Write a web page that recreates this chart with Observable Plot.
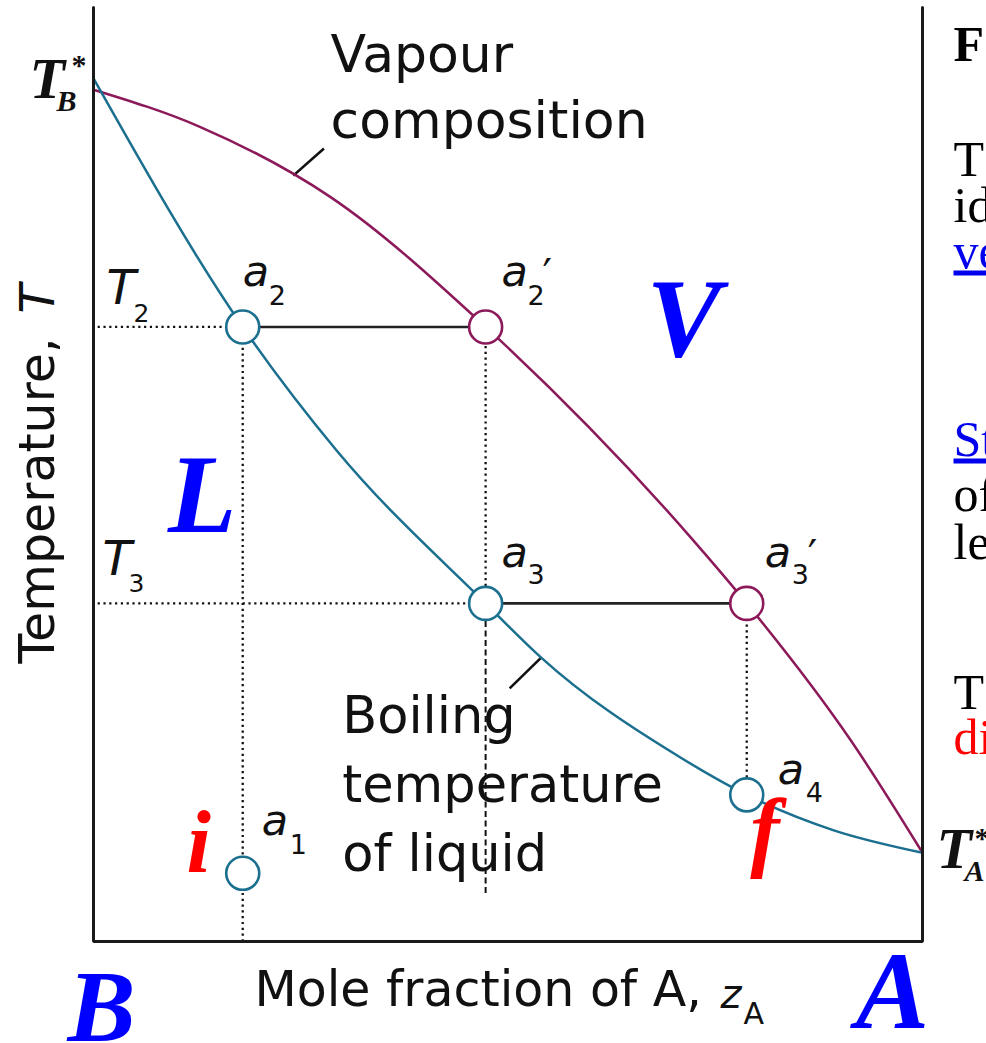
<!DOCTYPE html>
<html><head><meta charset="utf-8">
<script src="https://cdn.jsdelivr.net/npm/d3@7"></script>
<script src="https://cdn.jsdelivr.net/npm/@observablehq/plot@0.6"></script>
<style>
html,body{margin:0;padding:0;background:#fff;overflow:hidden;}
#chart svg{display:block;}
</style></head><body><div id="chart"></div>
<script>
// ---- data (mole fraction of A, z ; temperature T in arbitrary units) ----
const liquidZ = [0, 0.180, 0.293, 0.473, 0.540, 0.708, 0.788, 0.893, 1];
const liquidT = [92.4, 65.8, 52.6, 36.2, 30.4, 19.7, 15.7, 11.9, 9.5];
const vapourZ = [0, 0.129, 0.286, 0.473, 0.724, 0.788, 0.913, 1];
const vapourT = [91.2, 87.2, 79.7, 65.8, 42.9, 36.2, 21.6, 9.5];
const pointNames = ["a1", "a2", "a2′", "a3", "a3′", "a4"];
const pointZ = [0.180, 0.180, 0.473, 0.473, 0.788, 0.788];
const pointT = [7.3, 65.8, 65.8, 36.2, 36.2, 15.7];
const pointPhase = ["liquid", "liquid", "vapour", "liquid", "vapour", "liquid"];
const dashBottomT = 5.2;
const curveLabelText = ["Vapour\ncomposition", "Boiling\ntemperature\nof liquid"];
const curveLabelZ = [0.286, 0.300];
const curveLabelT = [86.0, 7.6];
const leaderZ1 = [0.241, 0.540], leaderT1 = [82.0, 30.4];
const leaderZ2 = [0.278, 0.502], leaderT2 = [84.9, 27.1];
const regionText = ["V", "L"], regionZ = [0.712, 0.131], regionT = [62.7, 43.8];
const endText = ["i", "f"], endZ = [0.127, 0.810], endT = [7.4, 8.7];
const sideLines = ["F", "T", "id", "ve", "St", "of", "le", "T", "di"];
const sideBaselines = [60, 175, 221, 267, 455, 510, 558, 708, 753];

// ---- build tables ----
const liquid = liquidZ.map((z, i) => ({z, T: liquidT[i]}));
const vapour = vapourZ.map((z, i) => ({z, T: vapourT[i]}));
const points = pointNames.map((name, i) => ({name, z: pointZ[i], T: pointT[i], phase: pointPhase[i],
  main: name[0], sub: name[1], prime: name.length > 2 ? name.slice(2) : ""}));
const P = Object.fromEntries(points.map(d => [d.name, d]));
const a1 = P["a1"], a2 = P["a2"], a2p = P["a2′"], a3 = P["a3"], a3p = P["a3′"], a4 = P["a4"];
const tieLines = [[a2, a2p], [a3, a3p]].map(([l, v]) => ({x1: l.z, y1: l.T, x2: v.z, y2: v.T}));
const dotted = [
  {x1: 0.005, y1: a2.T, x2: a2.z, y2: a2.T},
  {x1: 0.005, y1: a3.T, x2: a3.z, y2: a3.T},
  {x1: a2.z, y1: 0, x2: a2.z, y2: a2.T},
  {x1: a2p.z, y1: a3.T, x2: a2p.z, y2: a2p.T},
  {x1: a3p.z, y1: a4.T, x2: a3p.z, y2: a3p.T}
];
const dashed = [{x1: a3.z, y1: dashBottomT, x2: a3.z, y2: a3.T}];
const frame = [{z: 0, T: 100}, {z: 0, T: 0}, {z: 1, T: 0}, {z: 1, T: 100}];
const curveLabels = curveLabelText.map((text, i) => ({text, z: curveLabelZ[i], T: curveLabelT[i]}));
const leaders = leaderZ1.map((z, i) => ({x1: z, y1: leaderT1[i], x2: leaderZ2[i], y2: leaderT2[i]}));
const regions = regionText.map((text, i) => ({text, z: regionZ[i], T: regionT[i]}));
const ends = endText.map((text, i) => ({text, z: endZ[i], T: endT[i]}));
const side = sideLines.map((text, i) => ({text, b: sideBaselines[i]}));

const blue = "#1b6f8f", purple = "#8c1a5a";
const sans = "DejaVu Sans, sans-serif";
const serif = "Liberation Serif, Times New Roman, serif";
const ink = "#111";

// offsets for point labels (pixels, relative to circle centre)
const labelOffsets = {
  "a1": [19, -38, 47, -19, 0, 0],
  "a2": [0, -41, 26, -22, 0, 0],
  "a2′": [16, -41, 42, -22, 57, -38],
  "a3": [16, -36, 42, -19, 0, 0],
  "a3′": [18, -36, 45, -19, 61, -33],
  "a4": [31, -11, 59, 7, 0, 0]
};
const labelMarks = points.flatMap(d => {
  const o = labelOffsets[d.name];
  const m = [
    Plot.text([d], {x: "z", y: "T", text: "main", dx: o[0], dy: o[1], textAnchor: "start", lineAnchor: "bottom",
      fontFamily: sans, fontStyle: "italic", fontSize: 43, fill: ink}),
    Plot.text([d], {x: "z", y: "T", text: "sub", dx: o[2], dy: o[3], textAnchor: "start", lineAnchor: "bottom",
      fontFamily: sans, fontSize: 27, fill: ink})
  ];
  if (d.prime) m.push(Plot.text([d], {x: "z", y: "T", text: "prime", dx: o[4], dy: o[5], textAnchor: "start",
    lineAnchor: "bottom", fontFamily: sans, fontSize: 42, fill: ink}));
  return m;
});
const sideMarks = side.map(d => Plot.text([d], {frameAnchor: "top-right", text: "text", dx: 31, dy: d.b - 7,
  textAnchor: "start", lineAnchor: "bottom", fontFamily: serif, fontSize: 50,
  fill: d.text === "ve" || d.text === "St" ? "#0000ee" : d.text === "di" ? "#ff0000" : "#000",
  fontWeight: d.text === "F" ? "bold" : "normal"}));
const boldItalic = {fontFamily: serif, fontWeight: "bold", fontStyle: "italic"};
const TB = vapour[0], TA = vapour[vapour.length - 1];

const chart = Plot.plot({
  width: 986, height: 1043,
  marginLeft: 93, marginRight: 64, marginTop: 7, marginBottom: 102,
  x: {domain: [0, 1], axis: null},
  y: {domain: [0, 100], axis: null},
  style: {background: "white", overflow: "hidden"},
  marks: [
    // guide lines
    Plot.link(dotted, {x1: "x1", y1: "y1", x2: "x2", y2: "y2", stroke: ink, strokeWidth: 2.3, strokeDasharray: "2.2 3.6"}),
    Plot.link(dashed, {x1: "x1", y1: "y1", x2: "x2", y2: "y2", stroke: ink, strokeWidth: 2, strokeDasharray: "6 3.5"}),
    Plot.link(tieLines, {x1: "x1", y1: "y1", x2: "x2", y2: "y2", stroke: "#222", strokeWidth: 2.6}),
    Plot.link(leaders, {x1: "x1", y1: "y1", x2: "x2", y2: "y2", stroke: ink, strokeWidth: 2.6}),
    // curves
    Plot.line(vapour, {x: "z", y: "T", curve: "monotone-x", stroke: purple, strokeWidth: 2.5}),
    Plot.line(liquid, {x: "z", y: "T", curve: "monotone-x", stroke: blue, strokeWidth: 2.5}),
    // frame
    Plot.line(frame, {x: "z", y: "T", stroke: "#1a1a1a", strokeWidth: 3, strokeLinejoin: "miter"}),
    // state points
    Plot.dot(points, {x: "z", y: "T", r: 16.5, fill: "white", strokeWidth: 2.6,
      stroke: d => d.phase === "vapour" ? purple : blue}),
    ...labelMarks,
    // T2, T3 labels
    Plot.text([a2], {x: 0, y: "T", text: () => "T", dx: 13, dy: -23, textAnchor: "start", lineAnchor: "bottom",
      fontFamily: sans, fontStyle: "italic", fontSize: 48, fill: ink}),
    Plot.text([a2], {x: 0, y: "T", text: () => "2", dx: 40, dy: -5, textAnchor: "start", lineAnchor: "bottom",
      fontFamily: sans, fontSize: 25, fill: ink}),
    Plot.text([a3], {x: 0, y: "T", text: () => "T", dx: 9, dy: -28, textAnchor: "start", lineAnchor: "bottom",
      fontFamily: sans, fontStyle: "italic", fontSize: 48, fill: ink}),
    Plot.text([a3], {x: 0, y: "T", text: () => "3", dx: 35, dy: -11, textAnchor: "start", lineAnchor: "bottom",
      fontFamily: sans, fontSize: 25, fill: ink}),
    // curve labels
    Plot.text(curveLabels.slice(0, 1), {x: "z", y: "T", text: "text", textAnchor: "start", lineAnchor: "bottom",
      lineHeight: 1.27, fontFamily: sans, fontSize: 52, fill: ink}),
    Plot.text(curveLabels.slice(1), {x: "z", y: "T", text: "text", textAnchor: "start", lineAnchor: "bottom",
      lineHeight: 1.35, fontFamily: sans, fontSize: 51, fill: ink}),
    // region letters
    Plot.text(regions, {x: "z", y: "T", text: "text", textAnchor: "middle", lineAnchor: "bottom",
      ...boldItalic, fontSize: 112, fill: "#0000ff"}),
    Plot.text(ends, {x: "z", y: "T", text: "text", textAnchor: "middle", lineAnchor: "bottom",
      ...boldItalic, fontSize: 88, fill: "#ff0000"}),
    Plot.text(["B"], {frameAnchor: "bottom-left", text: d => d, dx: 8, dy: 99, textAnchor: "middle", lineAnchor: "bottom",
      ...boldItalic, fontSize: 102, fill: "#0000ff"}),
    Plot.text(["A"], {frameAnchor: "bottom-right", text: d => d, dx: -30, dy: 86, textAnchor: "middle", lineAnchor: "bottom",
      ...boldItalic, fontSize: 110, fill: "#0000ff"}),
    // pure-component boiling points
    Plot.text([TB], {x: "z", y: "T", text: () => "T", dx: -64, dy: 8, textAnchor: "start", lineAnchor: "bottom",
      ...boldItalic, fontSize: 58, fill: ink}),
    Plot.text([TB], {x: "z", y: "T", text: () => "B", dx: -37, dy: 21, textAnchor: "start", lineAnchor: "bottom",
      ...boldItalic, fontSize: 30, fill: ink}),
    Plot.text([TB], {x: "z", y: "T", text: () => "*", dx: -22, dy: -15, textAnchor: "start", lineAnchor: "bottom",
      fontFamily: serif, fontWeight: "bold", fontSize: 30, fill: ink}),
    Plot.text([TA], {x: "z", y: "T", text: () => "T", dx: 14, dy: 15, textAnchor: "start", lineAnchor: "bottom",
      ...boldItalic, fontSize: 58, fill: ink}),
    Plot.text([TA], {x: "z", y: "T", text: () => "A", dx: 42, dy: 28, textAnchor: "start", lineAnchor: "bottom",
      ...boldItalic, fontSize: 30, fill: ink}),
    Plot.text([TA], {x: "z", y: "T", text: () => "*", dx: 52, dy: -5, textAnchor: "start", lineAnchor: "bottom",
      fontFamily: serif, fontWeight: "bold", fontSize: 30, fill: ink}),
    // axis titles
    Plot.text(["Temperature,"], {frameAnchor: "left", text: d => d, dx: -40, dy: 189, rotate: -90, textAnchor: "start",
      lineAnchor: "bottom", fontFamily: sans, fontSize: 49, fill: ink}),
    Plot.text(["T"], {frameAnchor: "left", text: d => d, dx: -40, dy: -161, rotate: -90, textAnchor: "start",
      lineAnchor: "bottom", fontFamily: sans, fontStyle: "italic", fontSize: 48, fill: ink}),
    Plot.text(["Mole fraction of A,"], {frameAnchor: "bottom-left", text: d => d, dx: 161, dy: 64, textAnchor: "start",
      lineAnchor: "bottom", fontFamily: sans, fontSize: 49, fill: ink}),
    Plot.text(["z"], {frameAnchor: "bottom-left", text: d => d, dx: 627, dy: 66, textAnchor: "start",
      lineAnchor: "bottom", fontFamily: sans, fontStyle: "italic", fontSize: 40, fill: ink}),
    Plot.text(["A"], {frameAnchor: "bottom-left", text: d => d, dx: 650, dy: 82, textAnchor: "start",
      lineAnchor: "bottom", fontFamily: sans, fontSize: 30, fill: ink}),
    // surrounding page text (clipped at the window edge)
    ...sideMarks
  ]
});
document.getElementById("chart").appendChild(chart);
d3.select(chart).selectAll("text")
  .filter(function() { return this.textContent === "ve" || this.textContent === "St"; })
  .style("text-decoration", "underline");
</script>
</body></html>
